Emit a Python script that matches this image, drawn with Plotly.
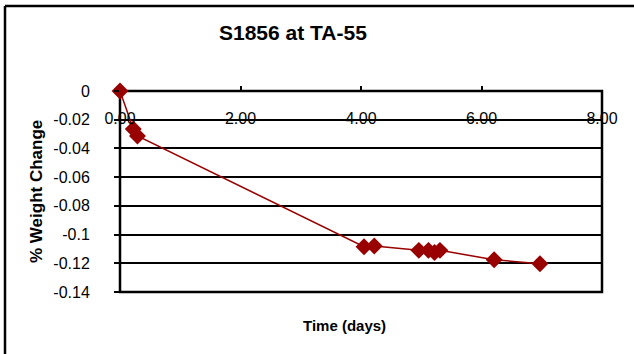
import plotly.graph_objects as go

# Data
days = [0.0, 0.22, 0.29, 4.05, 4.22, 4.96, 5.12, 5.22, 5.31, 6.21, 6.97]
weight_change = [0.0, -0.0265, -0.0313, -0.1085, -0.108, -0.111, -0.111, -0.1125, -0.111, -0.1175, -0.1203]

y_tickvals = [0, -0.02, -0.04, -0.06, -0.08, -0.1, -0.12, -0.14]
y_ticktext = ["0", "-0.02", "-0.04", "-0.06", "-0.08", "-0.1", "-0.12", "-0.14"]
x_tickvals = [0, 2, 4, 6, 8]
x_ticktext = ["0.00", "2.00", "4.00", "6.00", "8.00"]

W, H = 634, 354
L, R, T, B = 120, 32, 91, 62
pw, ph = W - L - R, H - T - B

fig = go.Figure()
fig.add_trace(go.Scatter(
    x=days, y=weight_change, mode="lines+markers",
    line=dict(color="#990000", width=1.5),
    marker=dict(symbol="diamond", size=13, color="#990000"),
    showlegend=False, cliponaxis=False,
))

font = "Liberation Sans, Arial, sans-serif"
fig.update_layout(
    width=W, height=H,
    margin=dict(l=L, r=R, t=T, b=B),
    paper_bgcolor="white", plot_bgcolor="white",
    font=dict(family=font, color="black", size=16),
    xaxis=dict(
        range=[0, 8], tickvals=x_tickvals, ticktext=x_ticktext,
        anchor="free", position=1, side="bottom",
        ticks="inside", ticklen=5, tickwidth=2, tickcolor="black",
        ticklabelstandoff=16,
        showgrid=False, zeroline=False, showline=False,
        tickfont=dict(size=16),
    ),
    yaxis=dict(
        range=[-0.14, 0], tickvals=y_tickvals, ticktext=y_ticktext,
        ticks="outside", ticklen=5, tickwidth=2, tickcolor="black",
        ticklabelstandoff=21,
        showgrid=True, gridcolor="black", gridwidth=2,
        zeroline=False, showline=False,
        tickfont=dict(size=16),
    ),
    shapes=[
        dict(type="rect", xref="paper", yref="paper", x0=0, x1=1, y0=0, y1=1,
             line=dict(color="black", width=2.5), fillcolor="rgba(0,0,0,0)", layer="below"),
        dict(type="line", xref="paper", yref="paper",
             x0=(5 - L) / pw, x1=(5 - L) / pw, y0=(T + ph - 6) / ph, y1=-0.5,
             line=dict(color="black", width=2.5)),
        dict(type="line", xref="paper", yref="paper",
             x0=(5 - L) / pw, x1=1.5, y0=(T + ph - 6) / ph, y1=(T + ph - 6) / ph,
             line=dict(color="black", width=2.5)),
    ],
    annotations=[
        dict(text="<b>S1856 at TA-55</b>", xref="paper", yref="paper",
             x=(293 - L) / pw, y=(T + ph - 33) / ph, showarrow=False,
             font=dict(size=21), xanchor="center", yanchor="middle"),
        dict(text="<b>Time (days)</b>", xref="paper", yref="paper",
             x=(344 - L) / pw, y=(T + ph - 325) / ph, showarrow=False,
             font=dict(size=15), xanchor="center", yanchor="middle"),
        dict(text="<b>% Weight Change</b>", xref="paper", yref="paper",
             x=(36 - L) / pw, y=(T + ph - 192) / ph, showarrow=False, textangle=-90,
             font=dict(size=17), xanchor="center", yanchor="middle"),
    ],
)

fig.write_html("out.html")
